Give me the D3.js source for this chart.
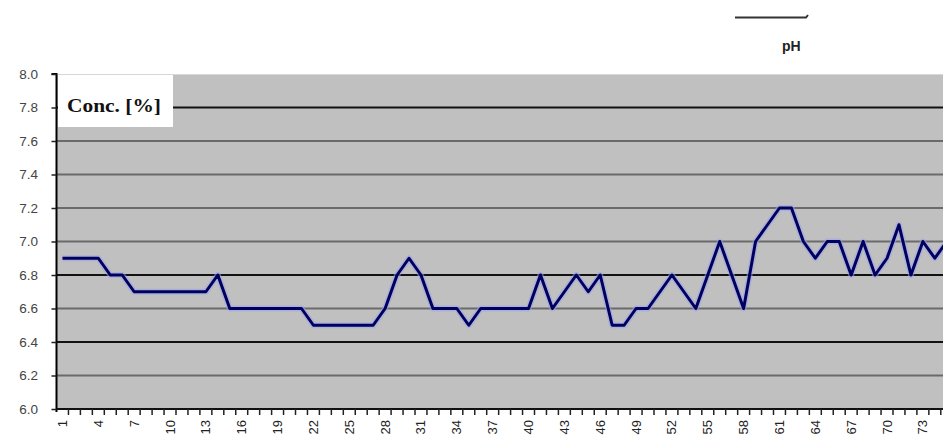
<!DOCTYPE html>
<html>
<head>
<meta charset="utf-8">
<script src="https://cdn.jsdelivr.net/npm/d3@7"></script>
<style>
  html, body { margin: 0; padding: 0; background: #fff; }
  svg { display: block; }
</style>
</head>
<body>
<svg id="chart" width="943" height="443"></svg>
<script>
// ---- data ----
const categories = d3.range(1, 76); // 1..75 (the last one runs past the right edge)
const phValues = [
  6.9, 6.9, 6.9, 6.9, 6.8, 6.8, 6.7, 6.7, 6.7, 6.7,
  6.7, 6.7, 6.7, 6.8, 6.6, 6.6, 6.6, 6.6, 6.6, 6.6,
  6.6, 6.5, 6.5, 6.5, 6.5, 6.5, 6.5, 6.6, 6.8, 6.9,
  6.8, 6.6, 6.6, 6.6, 6.5, 6.6, 6.6, 6.6, 6.6, 6.6,
  6.8, 6.6, 6.7, 6.8, 6.7, 6.8, 6.5, 6.5, 6.6, 6.6,
  6.7, 6.8, 6.7, 6.6, 6.8, 7.0, 6.8, 6.6, 7.0, 7.1,
  7.2, 7.2, 7.0, 6.9, 7.0, 7.0, 6.8, 7.0, 6.8, 6.9,
  7.1, 6.8, 7.0, 6.9, 7.0
];
const yTicks = [6.0, 6.2, 6.4, 6.6, 6.8, 7.0, 7.2, 7.4, 7.6, 7.8, 8.0];
const darkGridValues = [7.8, 6.8, 6.4];
const xLabelEvery = 3;
const seriesName = "pH";
const axisTitle = "Conc. [%]";

// ---- layout ----
const svg = d3.select("#chart");
const mLeft = 56.5, mTop = 74, mBottom = 409;
const step = 11.95;
const mRight = mLeft + categories.length * step;

const x = d3.scaleBand().domain(categories).range([mLeft, mRight]).padding(0);
const y = d3.scaleLinear().domain([6.0, 8.0]).range([mBottom, mTop]);

// plot background
svg.append("rect")
  .attr("x", mLeft).attr("y", mTop)
  .attr("width", mRight - mLeft).attr("height", mBottom - mTop)
  .attr("fill", "#c0c0c0");
svg.append("line")
  .attr("x1", mLeft).attr("x2", mRight).attr("y1", mTop + 0.5).attr("y2", mTop + 0.5)
  .attr("stroke", "#d8d8d8").attr("stroke-width", 1);

// gridlines
svg.append("g").selectAll("line")
  .data(yTicks.filter(v => v > 6.0 && v < 8.0))
  .join("line")
  .attr("x1", mLeft).attr("x2", mRight)
  .attr("y1", d => y(d)).attr("y2", d => y(d))
  .attr("stroke", d => darkGridValues.some(v => Math.abs(v - d) < 1e-9) ? "#111" : "#6a6a6a")
  .attr("stroke-width", 2);

// y axis
const yAxis = d3.axisLeft(y).tickValues(yTicks).tickFormat(d3.format(".1f")).tickSize(5).tickPadding(13.5);
const gy = svg.append("g").attr("transform", `translate(${mLeft},0)`).call(yAxis);
gy.select(".domain").attr("stroke", "#000").attr("stroke-width", 2).attr("d", `M-5,${mTop}H0V${mBottom + 3}`);
gy.selectAll(".tick line").attr("stroke", "#222").attr("stroke-width", 1.5);
gy.selectAll(".tick text")
  .attr("font-family", "Arial, 'Liberation Sans', sans-serif")
  .attr("font-size", 13.5).attr("fill", "#444");

// x axis (ticks between categories, labels every 3rd)
const gx = svg.append("g").attr("transform", `translate(0,${mBottom})`);
gx.append("line").attr("x1", mLeft).attr("x2", mRight).attr("y1", 0).attr("y2", 0)
  .attr("stroke", "#111").attr("stroke-width", 2);
gx.selectAll("line.tk")
  .data(categories)
  .join("line").attr("class", "tk")
  .attr("x1", d => x(d) + x.bandwidth()).attr("x2", d => x(d) + x.bandwidth())
  .attr("y1", 0).attr("y2", 6)
  .attr("stroke", "#222").attr("stroke-width", 1.5);
gx.selectAll("text")
  .data(categories.filter((d, i) => i % xLabelEvery === 0))
  .join("text")
  .attr("transform", d => `translate(${x(d) + x.bandwidth() / 2 + 4.5},${11})` + " rotate(-90)")
  .attr("text-anchor", "end")
  .attr("font-family", "Arial, 'Liberation Sans', sans-serif")
  .attr("font-size", 13).attr("fill", "#222")
  .text(d => d);

// line
const line = d3.line()
  .x((d, i) => x(categories[i]) + x.bandwidth() / 2)
  .y(d => y(d));
svg.append("path").datum(phValues)
  .attr("d", line).attr("fill", "none")
  .attr("stroke", "#9aa0e8").attr("stroke-opacity", 0.55)
  .attr("stroke-width", 6).attr("stroke-linejoin", "round");
svg.append("path").datum(phValues)
  .attr("d", line).attr("fill", "none")
  .attr("stroke", "#000060").attr("stroke-width", 3)
  .attr("stroke-linejoin", "round");

// axis title box
svg.append("rect").attr("x", mLeft + 1.5).attr("y", mTop + 1).attr("width", 115).attr("height", 52).attr("fill", "#fff");
svg.append("text")
  .attr("x", 67).attr("y", 112)
  .attr("font-family", "'Liberation Serif', 'Times New Roman', serif")
  .attr("font-weight", "bold").attr("font-size", 18).attr("fill", "#111")
  .attr("textLength", 94).attr("lengthAdjust", "spacingAndGlyphs")
  .text(axisTitle);

// legend
svg.append("path")
  .attr("d", "M735,17.5H806L808,15")
  .attr("fill", "none").attr("stroke", "#333").attr("stroke-width", 2);
svg.append("text")
  .attr("x", 782).attr("y", 51)
  .attr("font-family", "Arial, 'Liberation Sans', sans-serif")
  .attr("font-weight", "bold").attr("font-size", 14).attr("fill", "#222")
  .text(seriesName);
</script>
</body>
</html>
